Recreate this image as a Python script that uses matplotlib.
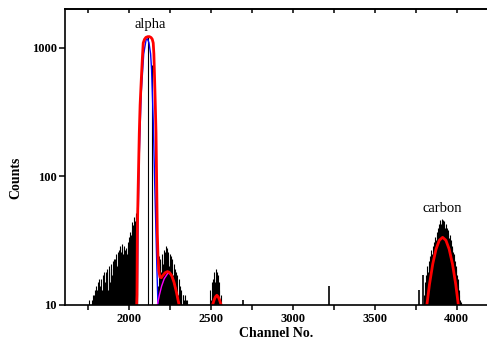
import matplotlib
matplotlib.use("Agg")
import matplotlib.pyplot as plt
import numpy as np

plt.rcParams['font.family'] = ['Liberation Serif', 'DejaVu Serif']

# measured spectrum (counts), channels binned by 4
tail_start = 1756
tail_counts = [11, 3, 3, 3, 3, 11, 12, 5, 12, 13, 11, 14, 8, 13, 15, 12, 16, 14, 9,
               16, 13, 17, 12, 18, 15, 11, 18, 16, 19, 13, 18, 20, 15, 19, 21, 17,
               22, 19, 23, 18, 23, 21, 25, 20, 26, 24, 27, 23, 29, 26, 30, 28, 25,
               29, 24, 27, 26, 28, 25, 31, 29, 34, 32, 37, 35, 44, 38, 42, 40, 48,
               45, 52, 50, 58, 55]

peak_ch = [2116, 2142]
peak_counts = [1220, 740]

bump_start = 2180
bump_counts = [14, 24, 20, 23, 18, 22, 25, 21, 27, 23, 26, 29, 24, 28, 22, 26, 20,
               25, 21, 24, 19, 23, 17, 21, 15, 19, 14, 18, 13, 17, 12, 16, 11, 14,
               10, 13, 9, 12, 12, 11, 12, 10, 11, 11]

small_start = 2496
small_counts = [13, 11, 15, 12, 16, 14, 18, 15, 19, 16, 18, 14, 17, 13, 15, 11, 12]

spike_ch = [2697, 3220, 3770, 3793]
spike_counts = [11, 14, 13, 17]

carbon_start = 3800
carbon_counts = [12, 15, 13, 17, 16, 20, 18, 22, 20, 24, 23, 27, 25, 29, 14, 31, 29,
                 34, 32, 37, 35, 40, 38, 43, 41, 46, 43, 47, 44, 46, 42, 45, 40, 43,
                 38, 40, 36, 38, 33, 35, 31, 32, 28, 29, 26, 25, 23, 22, 20, 19, 17,
                 16, 14, 13, 12, 11, 10.5]

# fitted curves
fit_alpha_ch = [2046, 2049, 2051, 2056, 2063, 2068, 2075, 2081, 2087, 2095, 2104,
                2115, 2125, 2135, 2142, 2148, 2152, 2156, 2161, 2165, 2169, 2173,
                2177, 2182, 2189, 2197, 2207, 2220, 2235, 2245, 2260, 2275, 2290,
                2300, 2306, 2310]
fit_alpha = [9, 12, 36, 80, 218, 360, 560, 800, 1094, 1170, 1210, 1225, 1225, 1205,
             1170, 1094, 900, 600, 350, 218, 90, 36, 24, 18.5, 16.5, 16.3, 17,
             17.8, 18.2, 18.0, 17, 15, 12.5, 10.8, 10, 9]

comp1_ch = [2050, 2055, 2063, 2075, 2090, 2104, 2112, 2122, 2132, 2138, 2148, 2156,
            2165, 2171, 2177, 2180]
comp1 = [10, 40, 150, 450, 900, 1150, 1180, 1100, 900, 676, 274, 100, 36, 18, 10, 8]

comp2_ch = [2170, 2173, 2186, 2199, 2215, 2235, 2245, 2265, 2285, 2300, 2308, 2312]
comp2 = [9, 10, 12, 14, 16, 17.5, 17.8, 16.5, 13.5, 11, 10, 9]

fit_small_ch = [2506, 2510, 2520, 2528, 2536, 2544, 2552, 2562, 2566]
fit_small = [9.5, 10, 11, 11.6, 11.9, 11.6, 11, 10, 9.5]

fit_carbon_ch = [3813, 3817, 3833, 3853, 3873, 3893, 3913, 3933, 3953, 3973, 3993,
                 4009, 4013]
fit_carbon = [9, 10, 14.5, 20.9, 27.2, 31.9, 33.6, 31.9, 27.2, 20.9, 14.5, 10, 9]

major_x = [2000, 2500, 3000, 3500, 4000]
minor_x = [1750, 2250, 2750, 3250, 3750]


def channels(start, values):
    return start + 4 * np.arange(len(values))


fig = plt.figure(figsize=(4.87, 3.41), dpi=100)
ax = fig.add_axes([0.1335, 0.1056, 0.8686, 0.868])

for start, vals in [(tail_start, tail_counts), (bump_start, bump_counts),
                    (small_start, small_counts), (carbon_start, carbon_counts)]:
    ax.vlines(channels(start, vals), 1, vals, color='black', lw=0.8)
ax.vlines(peak_ch, 1, peak_counts, color='black', lw=0.8)
ax.vlines(spike_ch, 1, spike_counts, color='black', lw=1.2)

ax.plot(comp1_ch, comp1, color='blue', lw=1.0)
ax.plot(comp2_ch, comp2, color='magenta', lw=1.0)
ax.plot(fit_alpha_ch, fit_alpha, color='red', lw=2.0)
ax.plot(fit_small_ch, fit_small, color='red', lw=2.0)
ax.plot(fit_carbon_ch, fit_carbon, color='red', lw=2.0)

ax.set_yscale('log')
ax.set_xlim(1610, 4190)
ax.set_ylim(10, 2010)
ax.set_yticks([10, 100, 1000])
ax.set_yticklabels(['10', '100', '1000'])
ax.yaxis.set_minor_locator(matplotlib.ticker.NullLocator())
ax.set_xticks(major_x)
ax.set_xticks(minor_x, minor=True)

for lab in ax.get_xticklabels() + ax.get_yticklabels():
    lab.set_fontweight('bold')
ax.tick_params(axis='x', which='both', direction='out', length=3.5, width=1.1,
               labelsize=9, pad=2)
ax.tick_params(axis='y', which='major', direction='out', length=4, width=1.1,
               labelsize=9, pad=2)
for sp in ax.spines.values():
    sp.set_linewidth(1.2)

# top axis: ticks pointing inward, no labels
top = ax.secondary_xaxis('top')
top.set_xticks(major_x)
top.set_xticks(minor_x, minor=True)
top.tick_params(axis='x', which='both', direction='in', length=3, width=1.1,
                labeltop=False)
top.spines['top'].set_linewidth(1.2)

ax.set_xlabel('Channel No.', fontsize=10, fontweight='bold')
ax.xaxis.set_label_coords(0.5, -0.075)
ax.set_ylabel('Counts', fontsize=10, fontweight='bold')
ax.yaxis.set_label_coords(-0.10, 0.43)

ax.text(2130, 1430, 'alpha', fontsize=10.5, ha='center', va='baseline')
ax.text(3910, 53, 'carbon', fontsize=10.5, ha='center', va='baseline')

fig.savefig('out.png', dpi=100)
